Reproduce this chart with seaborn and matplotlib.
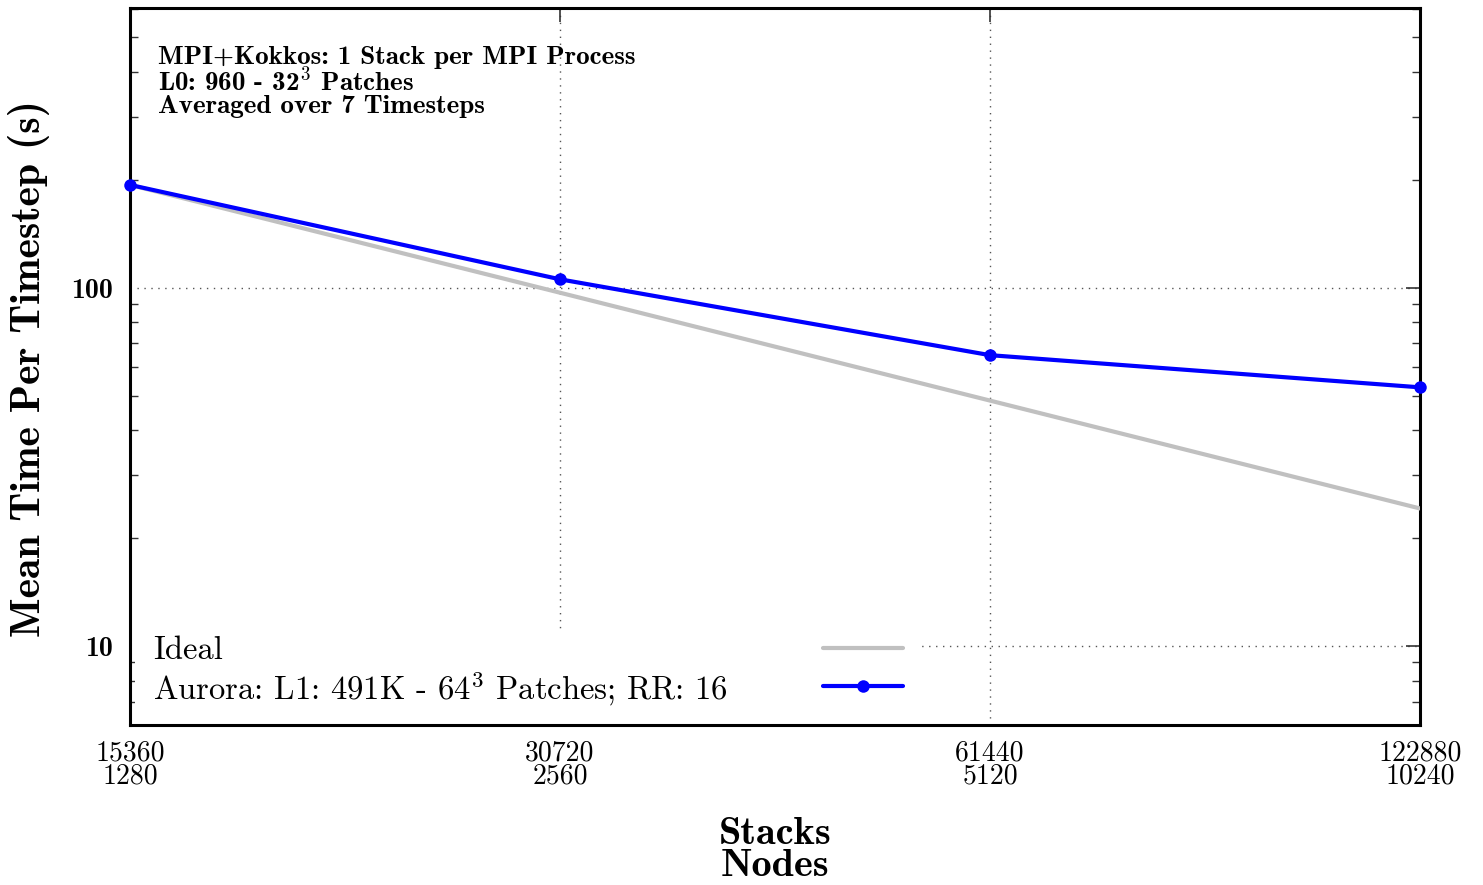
import numpy as np
import pandas as pd
import matplotlib
matplotlib.use('Agg')
import matplotlib.pyplot as plt
import seaborn as sns
from matplotlib.lines import Line2D
from matplotlib.patches import Rectangle
from matplotlib.ticker import FixedLocator, NullLocator, LogLocator, NullFormatter

# data
stacks = [15360, 30720, 61440, 122880]
nodes = [1280, 2560, 5120, 10240]
ideal_time = [193.5, 96.8, 48.4, 24.2]
aurora_time = [193.5, 105.5, 64.8, 52.7]

ideal_label = 'Ideal'
aurora_label = r'Aurora: L1: 491K - 64$^{3}$ Patches; RR: 16'
notes = ['MPI+Kokkos: 1 Stack per MPI Process',
         r'L0: 960 - 32$^{\mathbf{3}}$ Patches',
         'Averaged over 7 Timesteps']

sns.set_style('white')
plt.rcParams['font.family'] = ['cmr10', 'DejaVu Serif']
plt.rcParams['mathtext.fontset'] = 'cm'
plt.rcParams['axes.unicode_minus'] = False
for key in ['text.color', 'axes.labelcolor', 'xtick.labelcolor', 'ytick.labelcolor']:
    plt.rcParams[key] = 'black'

df = pd.DataFrame({'stacks': stacks * 2,
                   'time': ideal_time + aurora_time,
                   'series': ['ideal'] * 4 + ['aurora'] * 4})

fig = plt.figure(figsize=(14.83, 8.85), dpi=100)
ax = fig.add_axes([130 / 1483, 1 - 725 / 885, 1290 / 1483, 717 / 885])

sns.lineplot(data=df[df.series == 'ideal'], x='stacks', y='time', ax=ax,
             color='#c0c0c0', linewidth=3.0, zorder=3)
sns.lineplot(data=df[df.series == 'aurora'], x='stacks', y='time', ax=ax,
             color='#0000ff', linewidth=3.0, marker='o', markersize=9,
             markeredgewidth=0, zorder=4, clip_on=False)

ax.set_xscale('log', base=2)
ax.set_yscale('log')
ax.set_xlim(15360, 122880)
ax.set_ylim(6.02, 603)

ax.xaxis.set_major_locator(FixedLocator(stacks))
ax.xaxis.set_minor_locator(NullLocator())
ax.set_xticklabels([f'{s}\n{n}' for s, n in zip(stacks, nodes)],
                   fontsize=20, family='cmr10', linespacing=0.85)
ax.yaxis.set_major_locator(FixedLocator([10, 100]))
ax.yaxis.set_minor_locator(LogLocator(base=10, subs=np.arange(2, 10)))
ax.yaxis.set_minor_formatter(NullFormatter())
ax.set_yticklabels(['10', '100'], fontsize=20, family='cmb10')

ax.tick_params(axis='both', which='major', direction='in', length=10,
               width=1.2, top=True, right=True, color='#333333')
ax.tick_params(axis='y', which='minor', direction='in', length=6,
               width=1.0, left=True, right=True, color='#333333')
ax.tick_params(axis='x', which='major', pad=11)
ax.tick_params(axis='y', which='major', pad=12)

ax.grid(True, which='major', linestyle=(0, (1, 4)), color='#555555',
        linewidth=1.0)
ax.set_axisbelow(True)
for sp in ax.spines.values():
    sp.set_linewidth(2.2)
    sp.set_color('black')

ax.set_xlabel('Stacks\nNodes', fontsize=29, family='cmb10', linespacing=0.88)
ax.xaxis.set_label_coords(0.5, -0.128)
ax.set_ylabel('Mean Time Per Timestep (s)', fontsize=30, family='cmb10')
ax.yaxis.set_label_coords(-0.062, 0.497)

# annotation block in the upper left
for txt, yy in zip(notes, [0.9219, 0.8842, 0.853]):
    ax.text(0.0217, yy, txt, transform=ax.transAxes, fontsize=19.5,
            family='cmb10', va='baseline', ha='left')

# gnuplot style key: opaque box, text left, samples on the right
ax.add_patch(Rectangle((0.004, 0.004), 0.606, 0.13, transform=ax.transAxes,
                       facecolor='white', edgecolor='none', zorder=2.5))
ax.text(0.0178, 0.1046, ideal_label, transform=ax.transAxes, fontsize=23.5,
        family='cmr10', va='center', ha='left', zorder=6)
ax.text(0.0178, 0.050, aurora_label, transform=ax.transAxes, fontsize=23.5,
        family='cmr10', va='center', ha='left', zorder=6)
ax.add_line(Line2D([0.537, 0.599], [0.107, 0.107], transform=ax.transAxes,
                   color='#c0c0c0', linewidth=3.0, zorder=6))
ax.add_line(Line2D([0.537, 0.599], [0.054, 0.054], transform=ax.transAxes,
                   color='#0000ff', linewidth=3.0, zorder=6))
ax.add_line(Line2D([0.568], [0.054], transform=ax.transAxes, color='#0000ff',
                   marker='o', markersize=9, markeredgewidth=0, zorder=7))

fig.savefig('out.png', dpi=100)
